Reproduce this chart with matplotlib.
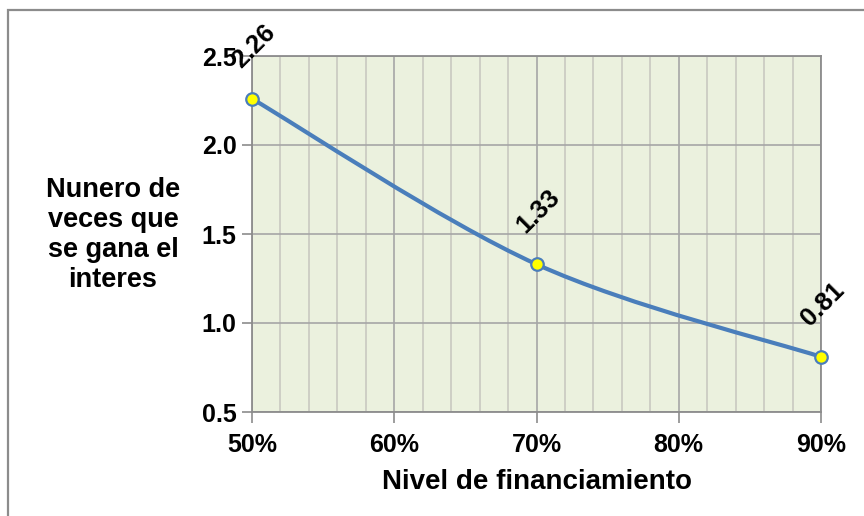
import matplotlib
matplotlib.use("Agg")
import matplotlib.pyplot as plt
from matplotlib.path import Path
from matplotlib.patches import PathPatch, Rectangle
from matplotlib.ticker import FixedLocator, MultipleLocator
import numpy as np

# Financing level (%) and times-interest-earned values
nivel = [50, 70, 90]
veces = [2.26, 1.33, 0.81]
etiquetas = ["2.26", "1.33", "0.81"]
x_ticks = [50, 60, 70, 80, 90]
x_ticklabels = ["50%", "60%", "70%", "80%", "90%"]
y_ticks = [0.5, 1.0, 1.5, 2.0, 2.5]

plt.rcParams["font.family"] = ["Liberation Sans", "DejaVu Sans"]
plt.rcParams["font.weight"] = "bold"

fig = plt.figure(figsize=(8.64, 5.16), dpi=100)
fig.patch.set_facecolor("white")

# outer chart frame
fig.patches.append(Rectangle((8 / 864, -0.1), 1.2, 1 - 10 / 516 + 0.1,
                             transform=fig.transFigure, fill=False,
                             edgecolor="#8c8c8c", linewidth=1.6))

ax = fig.add_axes([252 / 864, 1 - 412 / 516, (821 - 252) / 864, (412 - 56) / 516])
ax.set_facecolor("#EBF1DE")
ax.set_xlim(50, 90)
ax.set_ylim(0.5, 2.5)

# grid: light minor verticals, darker major lines
ax.xaxis.set_major_locator(FixedLocator(x_ticks))
ax.xaxis.set_minor_locator(MultipleLocator(2))
ax.yaxis.set_major_locator(FixedLocator(y_ticks))
ax.grid(which="minor", axis="x", color="#c9c9c0", linewidth=1.2)
ax.grid(which="major", axis="both", color="#a6a6a6", linewidth=1.2)
ax.set_axisbelow(True)
ax.tick_params(which="minor", length=0)
ax.tick_params(which="major", direction="out", color="#8c8c8c", width=1.2)
ax.tick_params(axis="y", length=7, pad=4, labelsize=18)
ax.tick_params(axis="x", length=8, pad=7, labelsize=18)
ax.set_xticklabels(x_ticklabels, fontweight="bold")
ax.set_yticklabels([f"{v:.1f}" for v in y_ticks], fontweight="bold")
for s in ax.spines.values():
    s.set_color("#8c8c8c")
    s.set_linewidth(1.3)

# smoothed line through the points (Bezier, Excel-style smoothing)
pts = np.column_stack([nivel, veces]).astype(float)
verts = [tuple(pts[0])]
codes = [Path.MOVETO]
n = len(pts)
for i in range(n - 1):
    p0 = pts[i - 1] if i > 0 else pts[i]
    p1 = pts[i]
    p2 = pts[i + 1]
    p3 = pts[i + 2] if i + 2 < n else pts[i + 1]
    c1 = p1 + (p2 - p0) / 6
    c2 = p2 - (p3 - p1) / 6
    verts += [tuple(c1), tuple(c2), tuple(p2)]
    codes += [Path.CURVE4] * 3
ax.add_patch(PathPatch(Path(verts, codes), facecolor="none",
                       edgecolor="#4A7EBB", linewidth=3, clip_on=False, zorder=3))

ax.plot(nivel, veces, linestyle="none", marker="o", markersize=9,
        markerfacecolor="#FFFF00", markeredgecolor="#4A7EBB",
        markeredgewidth=1.6, clip_on=False, zorder=4)

for x, y, t in zip(nivel, veces, etiquetas):
    ax.annotate(t, (x, y), xytext=(1, 38), textcoords="offset points",
                ha="center", va="center", rotation=45, fontsize=18.5,
                fontweight="bold", annotation_clip=False, zorder=5)

ax.set_xlabel("Nivel de financiamiento", fontsize=20, fontweight="bold",
              labelpad=9)
fig.text(113 / 864, 1 - 235 / 516, "Nunero de\nveces que\nse gana el\ninteres",
         ha="center", va="center", fontsize=19.5, fontweight="bold",
         linespacing=1.2)

fig.savefig("out.png", dpi=100, facecolor=fig.get_facecolor())
